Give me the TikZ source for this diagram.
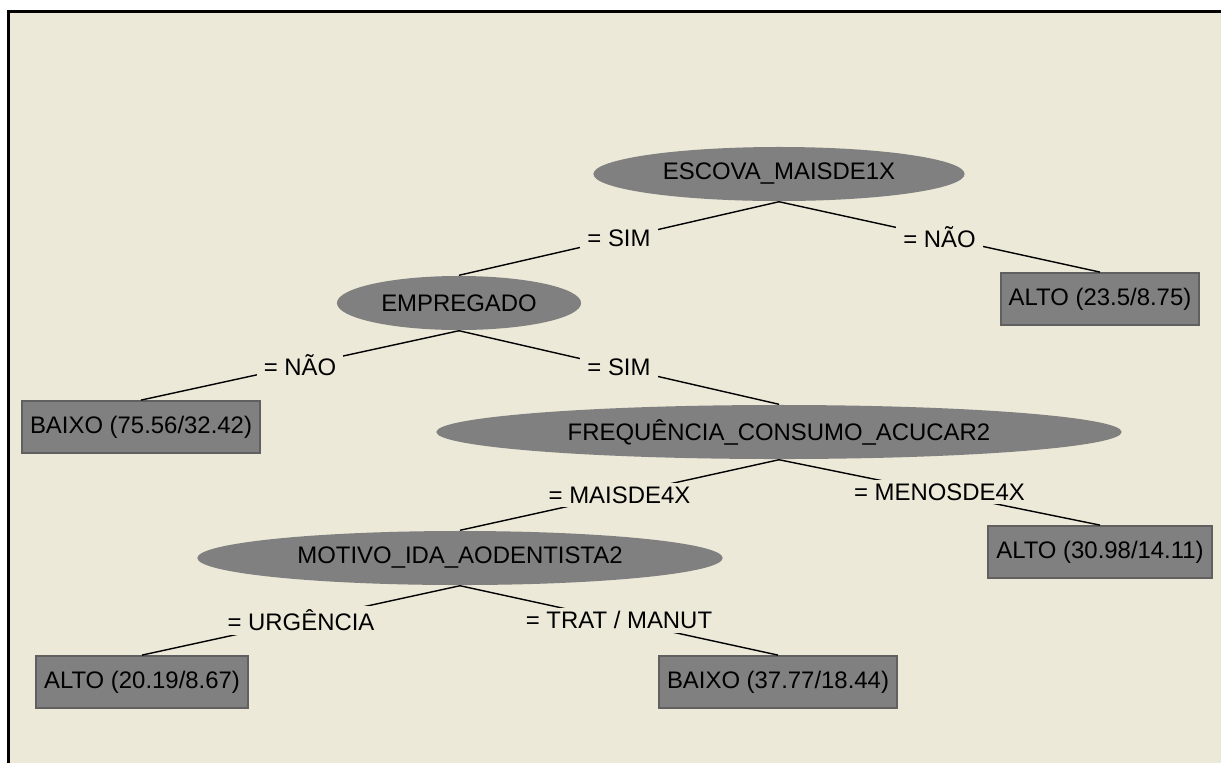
\documentclass[tikz,border=0pt]{standalone}
\usepackage{fontspec}
\setmainfont{Liberation Sans}
\usepackage{tikz}
\usetikzlibrary{shapes.geometric}
\definecolor{panelbg}{RGB}{236,233,216}
\definecolor{nodegray}{RGB}{128,128,128}
\tikzset{
  decision/.style={ellipse, fill=nodegray, inner sep=0pt, minimum height=0.54cm},
  leaf/.style={rectangle, fill=nodegray, draw=nodegray!75!black, line width=0.5pt, inner xsep=0.08cm, minimum height=0.52cm},
  branchlabel/.style={fill=panelbg, inner xsep=2pt, inner ysep=1pt}
}
\newcommand{\dtdecisionnode}[4] {\node at (#1) (#2) [decision, minimum width=#4] {#3};}
\newcommand{\dtleafnode}[3] {\node at (#1) (#2) [leaf] {#3};}
\newcommand{\dtbranch}[3] {\draw (#1.south) -- node [midway, branchlabel] {#3} (#2.north) ;}

\begin{document}
\begin{tikzpicture}[x=0.01cm, y=-0.01cm, font=\fontsize{6.8}{8}\selectfont]

\useasboundingbox (0,0) rectangle (1221,763);
\fill [white] (0,0) rectangle (1221,763);
\fill [panelbg] (8,11) rectangle (1221,763);
\draw [line width=0.85pt] (8.5,763) -- (8.5,11.5) -- (1221,11.5);

\dtdecisionnode {779,174} {escova} {ESCOVA\_MAISDE1X} {3.71cm};
\dtdecisionnode {459,303} {empregado} {EMPREGADO} {2.44cm};
\dtleafnode {1100,299} {alto1} {ALTO (23.5/8.75)};
\dtleafnode {141,427} {baixo1} {BAIXO (75.56/32.42)};
\dtdecisionnode {779,432} {frequencia} {FREQUÊNCIA\_CONSUMO\_ACUCAR2} {6.85cm};
\dtleafnode {1100,552} {alto2} {ALTO (30.98/14.11)};
\dtdecisionnode {460,558} {motivo} {MOTIVO\_IDA\_AODENTISTA2} {5.25cm};
\dtleafnode {142,682} {alto3} {ALTO (20.19/8.67)};
\dtleafnode {778,682} {baixo2} {BAIXO (37.77/18.44)};

\dtbranch {escova}{empregado}{= SIM};
\dtbranch {escova}{alto1}{= NÃO};
\dtbranch {empregado}{baixo1}{= NÃO};
\dtbranch {empregado}{frequencia}{= SIM};
\dtbranch {frequencia}{motivo}{= MAISDE4X};
\dtbranch {frequencia}{alto2}{= MENOSDE4X};
\dtbranch {motivo}{alto3}{= URGÊNCIA};
\dtbranch {motivo}{baixo2}{= TRAT / MANUT};

%\node at (600,740) {};
\end{tikzpicture}
\end{document}
